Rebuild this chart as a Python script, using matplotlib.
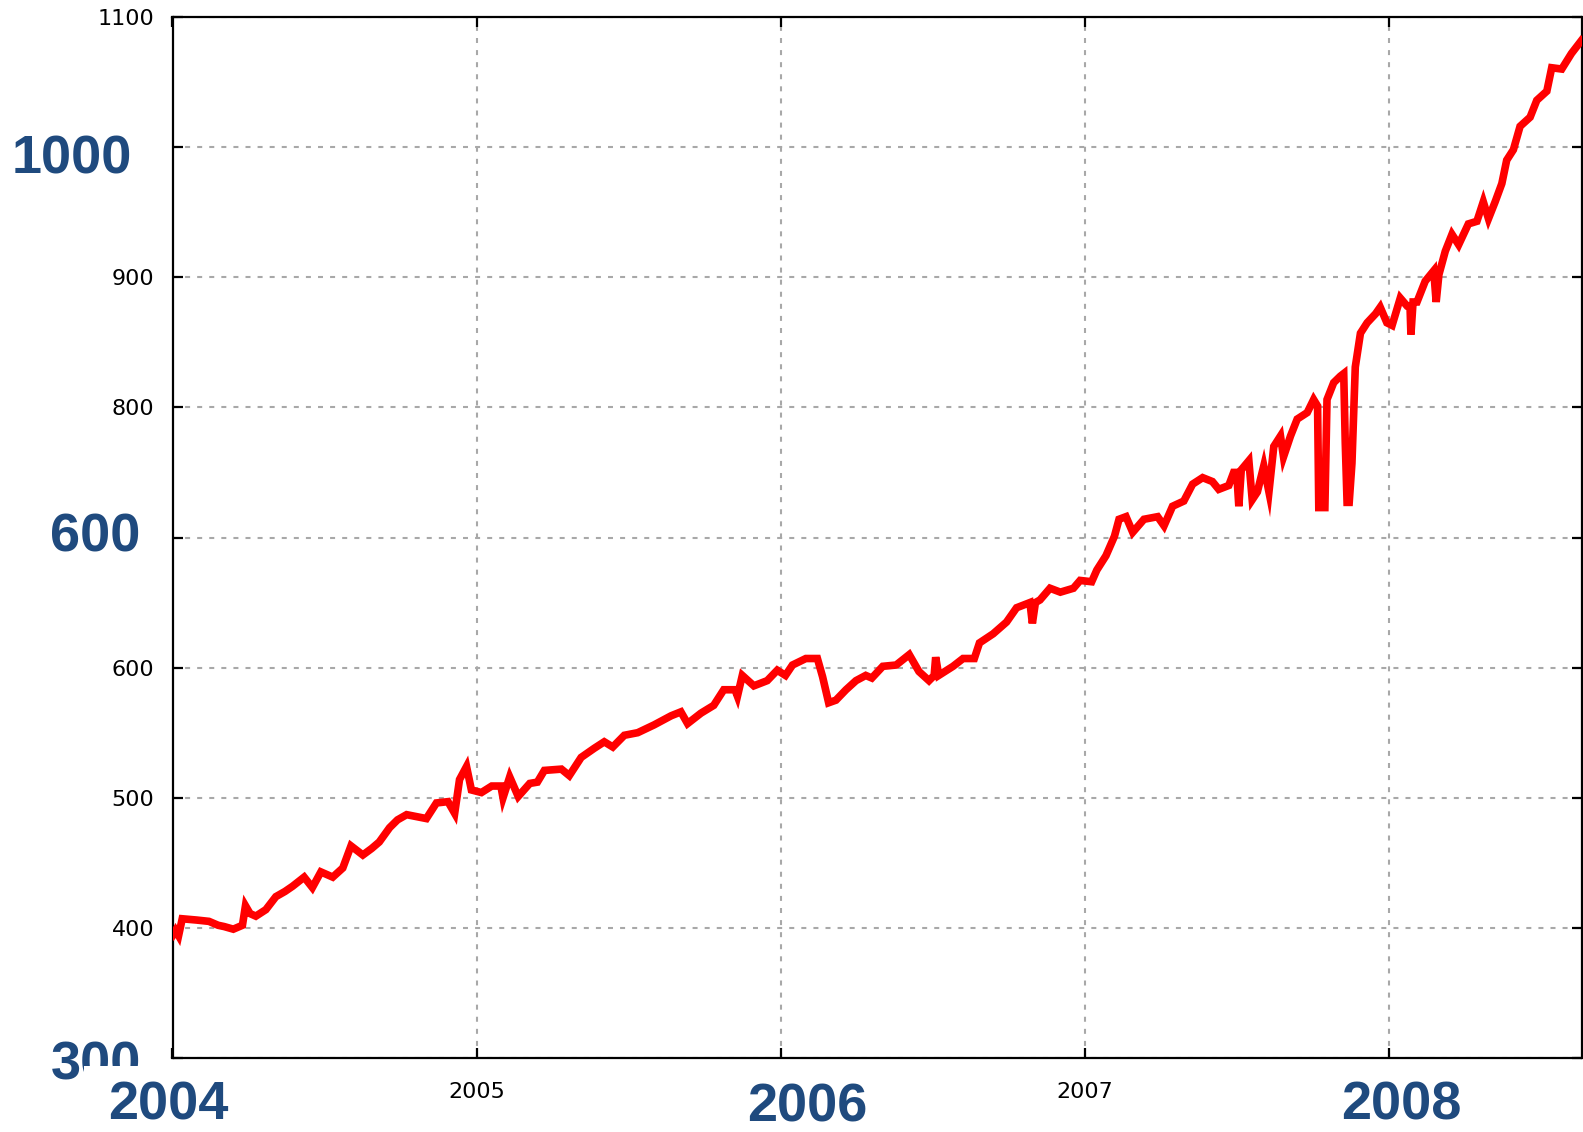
import matplotlib
matplotlib.use("Agg")
import matplotlib.pyplot as plt
from matplotlib.patches import Rectangle

# данные (год, значение)
years = [2004.000, 2004.010, 2004.020, 2004.032, 2004.080, 2004.120, 2004.150, 2004.170,
         2004.200, 2004.230, 2004.240, 2004.255, 2004.274, 2004.307, 2004.340, 2004.370,
         2004.395, 2004.433, 2004.460, 2004.488, 2004.527, 2004.560, 2004.587, 2004.626,
         2004.655, 2004.680, 2004.714, 2004.740, 2004.770, 2004.835, 2004.868, 2004.906,
         2004.928, 2004.944, 2004.967, 2004.983, 2005.016, 2005.050, 2005.080, 2005.087,
         2005.109, 2005.137, 2005.175, 2005.200, 2005.223, 2005.279, 2005.305, 2005.344,
         2005.387, 2005.420, 2005.448, 2005.486, 2005.530, 2005.584, 2005.640, 2005.672,
         2005.694, 2005.738, 2005.780, 2005.813, 2005.850, 2005.858, 2005.874, 2005.912,
         2005.956, 2005.989, 2006.016, 2006.039, 2006.083, 2006.121, 2006.138, 2006.158,
         2006.182, 2006.215, 2006.248, 2006.280, 2006.300, 2006.336, 2006.380, 2006.423,
         2006.455, 2006.488, 2006.505, 2006.510, 2006.520, 2006.567, 2006.600, 2006.637,
         2006.654, 2006.699, 2006.743, 2006.776, 2006.820, 2006.828, 2006.838, 2006.853,
         2006.886, 2006.920, 2006.963, 2006.985, 2007.023, 2007.040, 2007.070, 2007.098,
         2007.113, 2007.136, 2007.158, 2007.195, 2007.240, 2007.261, 2007.289, 2007.326,
         2007.355, 2007.388, 2007.420, 2007.441, 2007.474, 2007.490, 2007.500, 2007.507,
         2007.515, 2007.540, 2007.551, 2007.568, 2007.589, 2007.606, 2007.622, 2007.644,
         2007.654, 2007.677, 2007.699, 2007.732, 2007.753, 2007.766, 2007.770, 2007.790,
         2007.797, 2007.819, 2007.841, 2007.852, 2007.857, 2007.863, 2007.870, 2007.879,
         2007.890, 2007.907, 2007.929, 2007.957, 2007.972, 2007.994, 2008.011, 2008.038,
         2008.060, 2008.070, 2008.073, 2008.080, 2008.093, 2008.120, 2008.148, 2008.156,
         2008.165, 2008.186, 2008.208, 2008.230, 2008.262, 2008.290, 2008.311, 2008.328,
         2008.350, 2008.372, 2008.388, 2008.410, 2008.432, 2008.465, 2008.487, 2008.520,
         2008.536, 2008.569, 2008.601, 2008.634]
values = [394, 398, 394, 407, 406, 405, 402, 401,
          399, 402, 417, 411, 409, 414, 424, 428,
          432, 439, 431, 443, 439, 446, 463, 456,
          461, 466, 477, 483, 487, 484, 496, 497,
          488, 514, 524, 506, 504, 509, 509, 500,
          516, 501, 511, 512, 521, 522, 517, 531,
          538, 543, 539, 548, 550, 556, 563, 566,
          557, 565, 571, 583, 583, 578, 594, 586,
          590, 598, 594, 602, 607, 607, 593, 573,
          575, 583, 590, 594, 592, 601, 602, 610,
          597, 590, 594, 608, 594, 601, 607, 607,
          619, 626, 635, 646, 650, 634, 650, 652,
          661, 658, 661, 667, 666, 675, 686, 701,
          714, 716, 704, 714, 716, 709, 724, 728,
          741, 746, 743, 737, 740, 750, 750, 724,
          752, 759, 729, 735, 755, 735, 770, 778,
          762, 778, 791, 796, 806, 801, 723, 723,
          806, 819, 824, 826, 773, 727, 727, 757,
          831, 857, 865, 872, 877, 865, 863, 884,
          878, 878, 856, 881, 881, 897, 905, 881,
          902, 920, 933, 925, 941, 943, 958, 945,
          958, 972, 990, 998, 1016, 1023, 1036, 1043,
          1061, 1060, 1072, 1082]

y_ticks = [300, 400, 500, 600, 700, 800, 900, 1000, 1100]
y_tick_labels = ['', '400', '500', '600', '', '800', '900', '', '1100']
x_ticks = [2004, 2005, 2006, 2007, 2008]
x_tick_labels = ['', '2005', '', '2007', '']

# крупные подписи поверх графика: (текст, x px, y px)
big_labels = [('1000', 72, 159), ('600', 95, 538), ('300', 96, 1065),
              ('2004', 168, 1106), ('2006', 807, 1108), ('2008', 1401, 1106)]

W, H = 1583, 1132
fig = plt.figure(figsize=(W / 100, H / 100), dpi=100)
ax = fig.add_axes([172.5 / W, 1 - 1058 / H, (1581.5 - 172.5) / W, (1058 - 17) / H])

ax.plot(years, values, color='#ff0000', linewidth=5.5,
        solid_joinstyle='miter', zorder=3)

ax.set_xlim(2004, 2008.634)
ax.set_ylim(300, 1100)
ax.set_yticks(y_ticks)
ax.set_yticklabels(y_tick_labels)
ax.set_xticks(x_ticks)
ax.set_xticklabels(x_tick_labels)

ax.tick_params(direction='in', length=7, width=1.6, top=True, right=True,
               labelsize=16, colors='black')
ax.tick_params(axis='y', pad=13)
ax.tick_params(axis='x', pad=17)
ax.grid(True, color='#a8a8a8', linestyle=(0, (2.4, 3.4)), linewidth=1.5)
ax.set_axisbelow(True)
for sp in ax.spines.values():
    sp.set_linewidth(1.6)
    sp.set_color('black')

blue = '#1f4a7e'
for txt, px, py in big_labels:
    fig.text(px / W, 1 - py / H, txt, color=blue, fontsize=39, fontweight='bold',
             family='Liberation Sans', ha='center', va='center',
             zorder=5 if txt == '300' else 7)

# белая заплатка, обрезающая низ подписи "300", как на исходной картинке
fig.patches.append(Rectangle((84 / W, 1 - 1088 / H), 70 / W, 22 / H,
                             transform=fig.transFigure, facecolor='white',
                             edgecolor='none', zorder=6))

fig.savefig('out.png', dpi=100)
